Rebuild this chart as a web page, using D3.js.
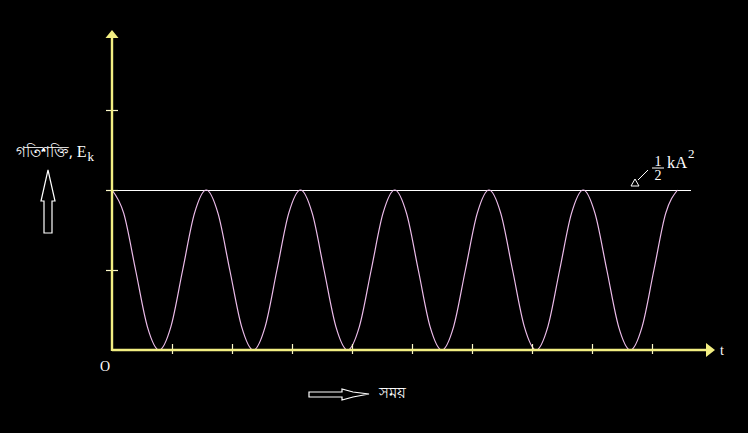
<!DOCTYPE html>
<html><head><meta charset="utf-8">
<script src="https://cdn.jsdelivr.net/npm/d3@7"></script>
<style>html,body{margin:0;padding:0;background:#000;}svg{display:block;}</style>
</head><body>
<svg id="chart" width="748" height="433"></svg>
<script>
// Time values (x axis units) sampled along the curve
const time = [0, 0.196, 0.393, 0.589, 0.785, 0.982, 1.178, 1.374, 1.571, 1.767, 1.963, 2.16, 2.356, 2.553, 2.749, 2.945, 3.142, 3.338, 3.534, 3.731, 3.927, 4.123, 4.32, 4.516, 4.712, 4.909, 5.105, 5.301, 5.498, 5.694, 5.89, 6.087, 6.283, 6.48, 6.676, 6.872, 7.069, 7.265, 7.461, 7.658, 7.854, 8.05, 8.247, 8.443, 8.639, 8.836, 9.032, 9.228, 9.425];
// Kinetic energy
const energy = [2, 1.707, 1, 0.293, 0, 0.293, 1, 1.707, 2, 1.707, 1, 0.293, 0, 0.293, 1, 1.707, 2, 1.707, 1, 0.293, 0, 0.293, 1, 1.707, 2, 1.707, 1, 0.293, 0, 0.293, 1, 1.707, 2, 1.707, 1, 0.293, 0, 0.293, 1, 1.707, 2, 1.707, 1, 0.293, 0, 0.293, 1, 1.707, 2];
const maxEnergy = 2;
const maxLineEnd = 9.65;
const xTicks = [1, 2, 3, 4, 5, 6, 7, 8, 9];
const yTicks = [1, 2, 3];
const yLabel = "গতিশক্তি, E";
const yLabelSub = "k";
const xLabel = "সময়";
const originLabel = "O";
const tLabel = "t";

const svg = d3.select("#chart");
const x = d3.scaleLinear().domain([0, 10]).range([112, 712]);
const y = d3.scaleLinear().domain([0, 4]).range([350, 30]);
const axisColor = "#f2ee82";
const tickColor = "#fbf8c8";

// max energy line
svg.append("line").attr("x1", x(0)).attr("x2", x(maxLineEnd))
  .attr("y1", y(maxEnergy) + 0.5).attr("y2", y(maxEnergy) + 0.5)
  .attr("stroke", "#ffffff").attr("stroke-width", 1).attr("shape-rendering", "crispEdges");

// curve
const line = d3.line().x((d, i) => x(time[i])).y(d => y(d)).curve(d3.curveMonotoneX);
svg.append("path").datum(energy).attr("d", line)
  .attr("fill", "none").attr("stroke", "#ecbcea").attr("stroke-width", 1.2);

// x axis
const gx = svg.append("g").attr("transform", `translate(0,${y(0)})`)
  .call(d3.axisBottom(x).tickValues(xTicks).tickFormat("").tickSizeOuter(0));
gx.select(".domain").remove();
gx.selectAll(".tick line").attr("y1", -6).attr("y2", 4).attr("stroke", tickColor).attr("stroke-width", 1.2);

// y axis
const gy = svg.append("g").attr("transform", `translate(${x(0)},0)`)
  .call(d3.axisLeft(y).tickValues(yTicks).tickFormat("").tickSizeOuter(0));
gy.select(".domain").remove();
gy.selectAll(".tick line").attr("x1", -6).attr("x2", 6).attr("stroke", tickColor).attr("stroke-width", 1.2);

// axis lines
svg.append("line").attr("x1", x(0)).attr("x2", 708).attr("y1", y(0)).attr("y2", y(0))
  .attr("stroke", axisColor).attr("stroke-width", 2.4);
svg.append("line").attr("x1", x(0)).attr("x2", x(0)).attr("y1", y(0) + 1).attr("y2", 36)
  .attr("stroke", axisColor).attr("stroke-width", 2.4);
// arrowheads
svg.append("path").attr("d", `M${x(0)},30 L${x(0) - 6.5},38 L${x(0) + 6.5},38 Z`).attr("fill", axisColor);
svg.append("path").attr("d", `M715,${y(0)} L706,${y(0) - 7} L706,${y(0) + 7} Z`).attr("fill", axisColor);

const serif = "'Liberation Serif','DejaVu Serif',serif";

// y label
const yl = svg.append("text").attr("x", 16).attr("y", 157).attr("fill", "#fff")
  .attr("font-family", "'Noto Sans','DejaVu Sans',sans-serif").attr("font-size", 14.5);
yl.append("tspan").text(yLabel.slice(0, -1));
yl.append("tspan").attr("font-family", serif).attr("font-size", 16).text(yLabel.slice(-1));
yl.append("tspan").attr("font-family", serif).attr("font-size", 13).attr("dy", 4).attr("dx", 1).text(yLabelSub);

// hollow up arrow
svg.append("path")
  .attr("d", "M48,170 L55,201 L52,201 L52,233 L44,233 L44,201 L41,201 Z")
  .attr("fill", "none").attr("stroke", "#fff").attr("stroke-width", 1.2);

// O and t
svg.append("text").attr("x", 105).attr("y", 371).attr("text-anchor", "middle")
  .attr("fill", "#fff").attr("font-family", serif).attr("font-size", 14).text(originLabel);
svg.append("text").attr("x", 722).attr("y", 355).attr("text-anchor", "middle")
  .attr("fill", "#fff").attr("font-family", serif).attr("font-size", 14).text(tLabel);

// bottom arrow
svg.append("path")
  .attr("d", "M309,392 L342,392 L342,389 L353,392 L369,394 L353,397 L342,400 L342,397 L309,397 Z")
  .attr("fill", "none").attr("stroke", "#fff").attr("stroke-width", 1.2);
svg.append("text").attr("x", 379).attr("y", 398).attr("fill", "#fff")
  .attr("font-family", "'Noto Sans','DejaVu Sans',sans-serif").attr("font-size", 14.5).text(xLabel);

// 1/2 kA^2 annotation
const ann = svg.append("g").attr("fill", "#fff").attr("font-family", serif);
ann.append("text").attr("x", 658).attr("y", 166).attr("text-anchor", "middle").attr("font-size", 14).text("1");
ann.append("line").attr("x1", 652).attr("x2", 664).attr("y1", 168).attr("y2", 168).attr("stroke", "#fff").attr("stroke-width", 1);
ann.append("text").attr("x", 658).attr("y", 180).attr("text-anchor", "middle").attr("font-size", 14).text("2");
ann.append("text").attr("x", 667).attr("y", 168).attr("font-size", 16.5).text("kA");
ann.append("text").attr("x", 688).attr("y", 158).attr("font-size", 13).text("2");
svg.append("path").attr("d", "M631,186 L639,186 L635,179 Z").attr("fill", "none").attr("stroke", "#fff").attr("stroke-width", 1);
svg.append("line").attr("x1", 638).attr("y1", 180).attr("x2", 648).attr("y2", 170).attr("stroke", "#fff").attr("stroke-width", 1);
</script>
</body></html>
